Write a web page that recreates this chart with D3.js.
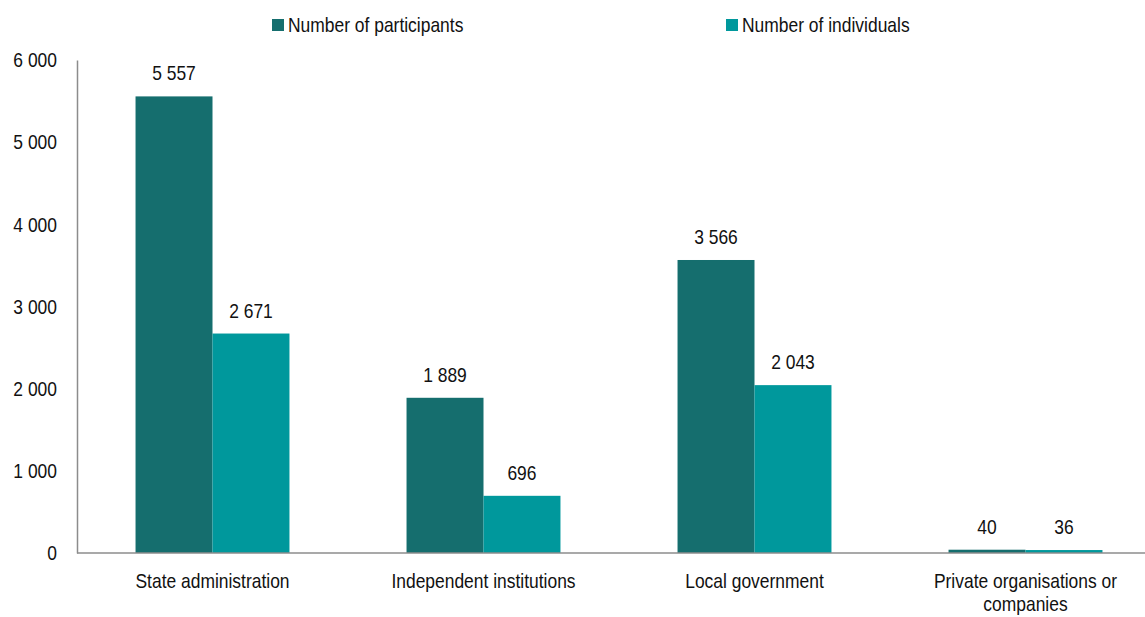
<!DOCTYPE html>
<html>
<head>
<meta charset="utf-8">
<script src="https://cdn.jsdelivr.net/npm/d3@7"></script>
<style>
  html, body { margin: 0; padding: 0; background: #fff; }
  svg { display: block; }
  text { font-family: "Liberation Sans Narrow", "Arial Narrow", "Liberation Sans", Arial, sans-serif; fill: #111; }
</style>
</head>
<body>
<svg id="chart" width="1145" height="617"></svg>
<script>
// Participants and distinct individuals by type of organisation
const categories = [
  ["State administration"],
  ["Independent institutions"],
  ["Local government"],
  ["Private organisations or", "companies"]
];
const seriesNames = ["Number of participants", "Number of individuals"];
const participants = [5557, 1889, 3566, 40];
const individuals = [2671, 696, 2043, 36];
const yTicks = [0, 1000, 2000, 3000, 4000, 5000, 6000];
const colors = ["#156e6e", "#00989c"];

const W = 1145, H = 617;
const margin = { left: 77, top: 60, bottom: 64 };
const plotRight = 1161;
const FS = 21;        // label font size
const SQUEEZE = 0.83; // horizontal condensing of the label face

const svg = d3.select("#chart");
const fmt = v => d3.format(",")(v).replace(/,/g, " ");

// narrow the regular sans face so labels read like a condensed font
function condense(sel) {
  sel.each(function () {
    const w = this.getComputedTextLength();
    if (w > 0) {
      this.setAttribute("textLength", (w * SQUEEZE).toFixed(2));
      this.setAttribute("lengthAdjust", "spacingAndGlyphs");
    }
  });
}

const x0 = d3.scaleBand()
  .domain(d3.range(categories.length))
  .range([margin.left, plotRight])
  .paddingInner(0.432)
  .paddingOuter(0.216);

const x1 = d3.scaleBand()
  .domain([0, 1])
  .range([0, x0.bandwidth()]);

const y = d3.scaleLinear()
  .domain([0, 6000])
  .range([H - margin.bottom, margin.top]);

// y-axis labels
const yAxis = d3.axisLeft(y)
  .tickValues(yTicks)
  .tickFormat(fmt)
  .tickSize(0)
  .tickPadding(20);
const gy = svg.append("g")
  .attr("transform", `translate(${margin.left},0)`)
  .call(yAxis);
gy.select(".domain").attr("stroke", "#8c8c8c").attr("stroke-width", 1.5);
gy.selectAll("text")
  .attr("font-size", FS)
  .attr("font-family", null)
  .style("fill", "#111")
  .call(condense);

// bars
const seriesData = [participants, individuals];
const groups = svg.append("g").selectAll("g")
  .data(categories.map((c, i) => i))
  .join("g")
  .attr("transform", i => `translate(${x0(i)},0)`);

groups.selectAll("rect")
  .data(i => seriesData.map((s, k) => ({ k, v: s[i] })))
  .join("rect")
  .attr("x", d => x1(d.k))
  .attr("y", d => y(d.v))
  .attr("width", x1.bandwidth())
  .attr("height", d => y(0) - y(d.v))
  .attr("fill", d => colors[d.k]);

// value labels
groups.selectAll("text.val")
  .data(i => seriesData.map((s, k) => ({ k, v: s[i] })))
  .join("text")
  .attr("class", "val")
  .attr("x", d => x1(d.k) + x1.bandwidth() / 2)
  .attr("y", d => y(d.v) - 16)
  .attr("text-anchor", "middle")
  .attr("font-size", FS)
  .text(d => fmt(d.v))
  .call(condense);

// x baseline
svg.append("line")
  .attr("x1", margin.left).attr("x2", W)
  .attr("y1", y(0)).attr("y2", y(0))
  .attr("stroke", "#8c8c8c").attr("stroke-width", 1.5);

// category labels, one text element per line
const catLines = categories.flatMap((lines, i) =>
  lines.map((t, j) => ({ i, j, t })));
svg.append("g").selectAll("text")
  .data(catLines)
  .join("text")
  .attr("text-anchor", "middle")
  .attr("font-size", FS)
  .attr("x", d => x0(d.i) + x0.bandwidth() / 2)
  .attr("y", d => y(0) + 35 + d.j * 23)
  .text(d => d.t)
  .call(condense);

// legend
const legendX = [272, 726];
const legend = svg.append("g").selectAll("g")
  .data(seriesNames)
  .join("g")
  .attr("transform", (d, i) => `translate(${legendX[i]},19)`);
legend.append("rect")
  .attr("width", 12).attr("height", 12)
  .attr("fill", (d, i) => colors[i]);
legend.append("text")
  .attr("x", 16).attr("y", 13)
  .attr("font-size", FS)
  .text(d => d)
  .call(condense);
</script>
</body>
</html>
